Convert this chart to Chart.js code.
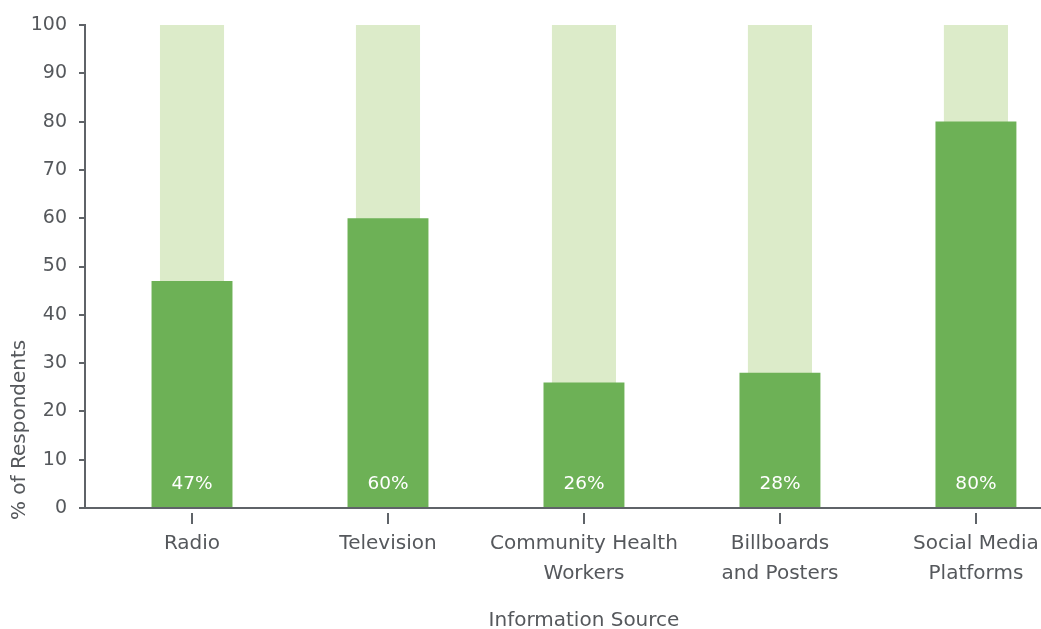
<!DOCTYPE html>
<html>
<head>
<meta charset="utf-8">
<script src="https://cdn.jsdelivr.net/npm/chart.js@4.4.0/dist/chart.umd.min.js"></script>
<style>
  html, body { margin: 0; padding: 0; background: #fff; overflow: hidden; }
  #wrap { position: relative; width: 1041px; height: 629px; }
</style>
</head>
<body>
<div id="wrap"><canvas id="sourceChart"></canvas></div>
<script>
const categories = [
  ["Radio"],
  ["Television"],
  ["Community Health", "Workers"],
  ["Billboards", "and Posters"],
  ["Social Media", "Platforms"],
];
const respondents = [47, 60, 26, 28, 80];
const fullScale = [100, 100, 100, 100, 100];
const yTicks = [0, 10, 20, 30, 40, 50, 60, 70, 80, 90, 100];

const AXIS = "#5f6368";
const TEXT = "#55585c";
const FONT = "'DejaVu Sans', sans-serif";

function points(values) {
  return values.map((v, i) => ({ x: i, y: v }));
}

// value labels near the foot of each bar, small detached ticks under the
// x axis and both axis titles
const barExtras = {
  id: "barExtras",
  afterDatasetsDraw(chart) {
    const { ctx } = chart;
    const meta = chart.getDatasetMeta(1);
    ctx.save();
    ctx.font = `18.5px ${FONT}`;
    ctx.fillStyle = "#ffffff";
    ctx.textAlign = "center";
    ctx.textBaseline = "middle";
    meta.data.forEach((bar, i) => {
      ctx.fillText(`${respondents[i]}%`, bar.x, bar.base - 23);
    });
    ctx.restore();
  },
  afterDraw(chart) {
    const { ctx } = chart;
    const x = chart.scales.x;
    const base = chart.scales.y.getPixelForValue(0);
    ctx.save();
    ctx.strokeStyle = AXIS;
    ctx.lineWidth = 2;
    categories.forEach((_, i) => {
      const px = Math.round(x.getPixelForValue(i));
      ctx.beginPath();
      ctx.moveTo(px, base + 5);
      ctx.lineTo(px, base + 16);
      ctx.stroke();
    });
    ctx.font = `20px ${FONT}`;
    ctx.fillStyle = TEXT;
    ctx.textAlign = "center";
    ctx.textBaseline = "middle";
    ctx.fillText("Information Source", x.getPixelForValue(2), base + 113);

    // y title reads bottom-up, starting just below the axis base
    ctx.translate(20, base + 12);
    ctx.rotate(-Math.PI / 2);
    ctx.textAlign = "left";
    ctx.fillText("% of Respondents", 0, 0);
    ctx.restore();
  },
};

function createSourceChart() {
  const ctx = document.getElementById("sourceChart");
  if (!ctx) return;

  return new Chart(ctx, {
    type: "bar",
    data: {
      datasets: [
        {
          label: "Scale",
          data: points(fullScale),
          backgroundColor: "#dcebc9",
          barPercentage: 0.327,
          categoryPercentage: 1,
          grouped: false,
          order: 2,
        },
        {
          label: "% of Respondents",
          data: points(respondents),
          backgroundColor: "#6db156",
          barPercentage: 0.413,
          categoryPercentage: 1,
          grouped: false,
          order: 1,
        },
      ],
    },
    options: {
      responsive: true,
      maintainAspectRatio: false,
      animation: false,
      layout: {
        padding: { top: 25, right: 0, bottom: 0, left: 0 },
      },
      plugins: {
        legend: { display: false },
        tooltip: { enabled: false },
      },
      scales: {
        x: {
          type: "linear",
          min: -0.546,
          max: 4.332,
          offset: false,
          afterBuildTicks: (scale) => {
            scale.ticks = categories.map((_, i) => ({ value: i }));
          },
          afterFit: (scale) => {
            scale.height = 121;
            scale.paddingLeft = 0;
            scale.paddingRight = 0;
          },
          grid: { display: false, offset: false },
          border: { color: AXIS, width: 2 },
          ticks: {
            autoSkip: false,
            maxRotation: 0,
            padding: 13,
            color: TEXT,
            font: { family: FONT, size: 20, lineHeight: "30px" },
            callback: (value) => categories[value],
          },
        },
        y: {
          min: 0,
          max: 100,
          afterBuildTicks: (scale) => {
            scale.ticks = yTicks.map((v) => ({ value: v }));
          },
          afterFit: (scale) => {
            scale.width = 85;
          },
          grid: {
            drawOnChartArea: false,
            drawTicks: true,
            tickLength: 6,
            color: AXIS,
            lineWidth: 2,
          },
          border: { color: AXIS, width: 2 },
          ticks: {
            padding: 12,
            color: TEXT,
            font: { family: FONT, size: 19 },
          },
        },
      },
    },
    plugins: [barExtras],
  });
}

document.addEventListener("DOMContentLoaded", createSourceChart);
</script>
</body>
</html>
